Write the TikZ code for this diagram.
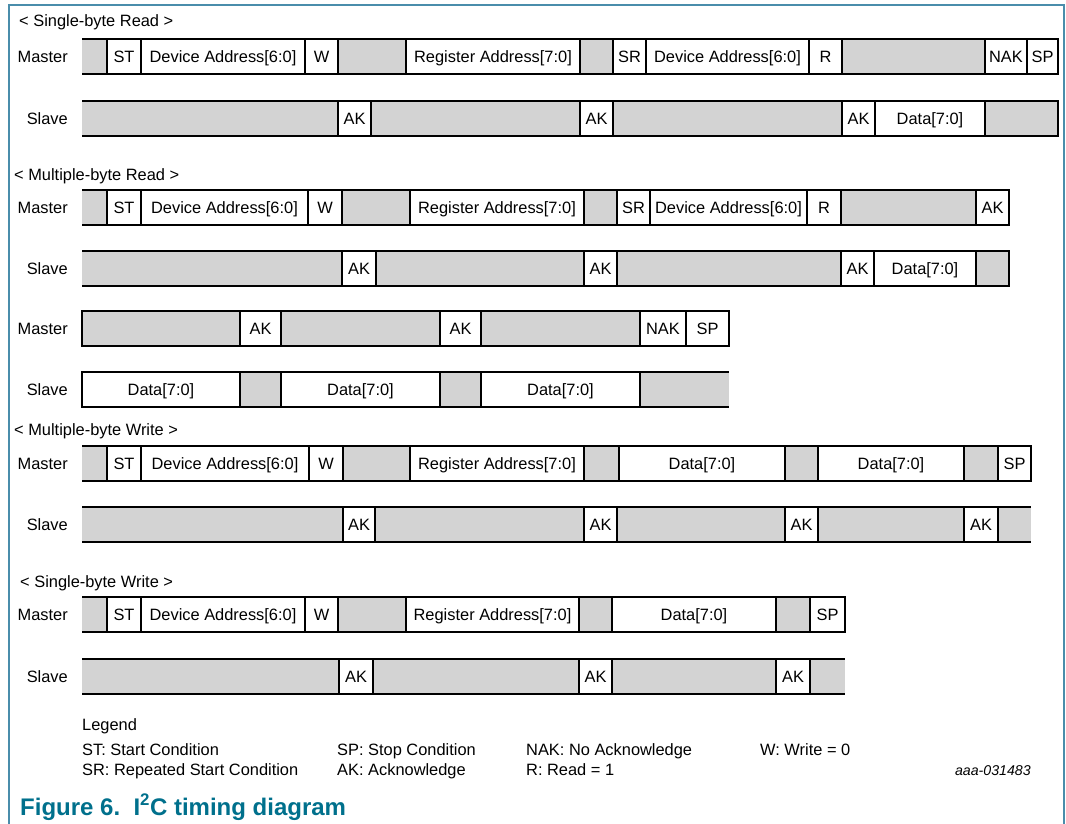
\documentclass[tikz,border=0pt]{standalone}
\usepackage{fontspec}
\setmainfont{Liberation Sans}
\usetikzlibrary{positioning}

\definecolor{cellgray}{RGB}{211,211,211}
\definecolor{framecol}{RGB}{74,141,171}
\definecolor{capteal}{RGB}{0,112,140}

\begin{document}
\begin{tikzpicture}[
     x=1pt, y=-1pt,
     font=\fontsize{16.4}{19}\selectfont,
     node distance=0pt,
     cell/.style={rectangle,inner sep=0pt,outer sep=0pt,minimum height=35pt,text height=11.7pt,text depth=0pt},
     wcell/.style={cell,draw,line width=1.4pt,fill=white},
     gcell/.style={cell,draw,line width=1.4pt,fill=cellgray},
     gopen/.style={cell,fill=cellgray},
     rowline/.style={line width=2pt},
     sepline/.style={line width=1.4pt},
     lab/.style={anchor=east,inner sep=0pt,text height=11.7pt,text depth=0pt},
     txt/.style={anchor=base west,inner sep=0pt}
   ]
   \useasboundingbox (0,0) rectangle (1066,824);
   % Frame.
   \draw[framecol, line width=1.5pt] (9,824) -- (9,5) -- (1064,5) -- (1064,824);
   % Single-byte read.
   \node[txt] (hsr) at (19,27) {< Single-byte Read >};
   \node[gopen, minimum width=25pt, anchor=west] (srm1) at (82,56.5) {};
   \node[wcell, minimum width=34pt, right=of srm1] (srm2) {ST};
   \node[wcell, minimum width=164pt, right=of srm2] (srm3) {Device Address[6:0]};
   \node[wcell, minimum width=33pt, right=of srm3] (srm4) {W};
   \node[gcell, minimum width=68pt, right=of srm4] (srm5) {};
   \node[wcell, minimum width=174pt, right=of srm5] (srm6) {Register Address[7:0]};
   \node[gcell, minimum width=33pt, right=of srm6] (srm7) {};
   \node[wcell, minimum width=33pt, right=of srm7] (srm8) {SR};
   \node[wcell, minimum width=163pt, right=of srm8] (srm9) {Device Address[6:0]};
   \node[wcell, minimum width=33pt, right=of srm9] (srm10) {R};
   \node[gcell, minimum width=143pt, right=of srm10] (srm11) {};
   \node[wcell, minimum width=42pt, right=of srm11] (srm12) {NAK};
   \node[wcell, minimum width=31pt, right=of srm12] (srm13) {SP};
   \draw[rowline] (srm1.north west) -- (srm13.north east) (srm1.south west) -- (srm13.south east);
   \node[lab, left=14pt of srm1] (srml) {Master};

   \node[gopen, minimum width=256pt, anchor=west] (srs1) at (82,118.5) {};
   \node[wcell, minimum width=33pt, right=of srs1] (srs2) {AK};
   \node[gcell, minimum width=209pt, right=of srs2] (srs3) {};
   \node[wcell, minimum width=33pt, right=of srs3] (srs4) {AK};
   \node[gcell, minimum width=229pt, right=of srs4] (srs5) {};
   \node[wcell, minimum width=33pt, right=of srs5] (srs6) {AK};
   \node[wcell, minimum width=110pt, right=of srs6] (srs7) {Data[7:0]};
   \node[gcell, minimum width=73pt, right=of srs7] (srs8) {};
   \draw[rowline] (srs1.north west) -- (srs8.north east) (srs1.south west) -- (srs8.south east);
   \node[lab, left=14pt of srs1] (srsl) {Slave};

   % Multiple-byte read.
   \node[txt] (hmr) at (14,180) {< Multiple-byte Read >};
   \node[gopen, minimum width=25pt, anchor=west] (mrm1) at (82,207.5) {};
   \node[wcell, minimum width=34pt, right=of mrm1] (mrm2) {ST};
   \node[wcell, minimum width=167pt, right=of mrm2] (mrm3) {Device Address[6:0]};
   \node[wcell, minimum width=34pt, right=of mrm3] (mrm4) {W};
   \node[gcell, minimum width=68pt, right=of mrm4] (mrm5) {};
   \node[wcell, minimum width=174pt, right=of mrm5] (mrm6) {Register Address[7:0]};
   \node[gcell, minimum width=33pt, right=of mrm6] (mrm7) {};
   \node[wcell, minimum width=33pt, right=of mrm7] (mrm8) {SR};
   \node[wcell, minimum width=157pt, right=of mrm8] (mrm9) {Device Address[6:0]};
   \node[wcell, minimum width=34pt, right=of mrm9] (mrm10) {R};
   \node[gcell, minimum width=135pt, right=of mrm10] (mrm11) {};
   \node[wcell, minimum width=33pt, right=of mrm11] (mrm12) {AK};
   \draw[rowline] (mrm1.north west) -- (mrm12.north east) (mrm1.south west) -- (mrm12.south east);
   \node[lab, left=14pt of mrm1] (mrml) {Master};

   \node[gopen, minimum width=260pt, anchor=west] (mrs1) at (82,268.5) {};
   \node[wcell, minimum width=34pt, right=of mrs1] (mrs2) {AK};
   \node[gcell, minimum width=208pt, right=of mrs2] (mrs3) {};
   \node[wcell, minimum width=33pt, right=of mrs3] (mrs4) {AK};
   \node[gcell, minimum width=224pt, right=of mrs4] (mrs5) {};
   \node[wcell, minimum width=33pt, right=of mrs5] (mrs6) {AK};
   \node[wcell, minimum width=102pt, right=of mrs6] (mrs7) {Data[7:0]};
   \node[gcell, minimum width=33pt, right=of mrs7] (mrs8) {};
   \draw[rowline] (mrs1.north west) -- (mrs8.north east) (mrs1.south west) -- (mrs8.south east);
   \node[lab, left=14pt of mrs1] (mrsl) {Slave};

   \node[gcell, minimum width=158pt, anchor=west] (mrmb1) at (82,328.5) {};
   \node[wcell, minimum width=41pt, right=of mrmb1] (mrmb2) {AK};
   \node[gcell, minimum width=159pt, right=of mrmb2] (mrmb3) {};
   \node[wcell, minimum width=41pt, right=of mrmb3] (mrmb4) {AK};
   \node[gcell, minimum width=159pt, right=of mrmb4] (mrmb5) {};
   \node[wcell, minimum width=46pt, right=of mrmb5] (mrmb6) {NAK};
   \node[wcell, minimum width=43pt, right=of mrmb6] (mrmb7) {SP};
   \draw[rowline] (mrmb1.north west) -- (mrmb7.north east) (mrmb1.south west) -- (mrmb7.south east);
   \node[lab, left=14pt of mrmb1] (mrmbl) {Master};

   \node[wcell, minimum width=158pt, anchor=west] (mrsb1) at (82,389.5) {Data[7:0]};
   \node[gcell, minimum width=41pt, right=of mrsb1] (mrsb2) {};
   \node[wcell, minimum width=159pt, right=of mrsb2] (mrsb3) {Data[7:0]};
   \node[gcell, minimum width=41pt, right=of mrsb3] (mrsb4) {};
   \node[wcell, minimum width=159pt, right=of mrsb4] (mrsb5) {Data[7:0]};
   \node[gopen, minimum width=89pt, right=of mrsb5] (mrsb6) {};
   \draw[sepline] (mrsb5.north east) -- (mrsb5.south east);
   \draw[rowline] (mrsb1.north west) -- (mrsb6.north east) (mrsb1.south west) -- (mrsb6.south east);
   \node[lab, left=14pt of mrsb1] (mrsbl) {Slave};

   % Multiple-byte write.
   \node[txt] (hmw) at (14,435) {< Multiple-byte Write >};
   \node[gopen, minimum width=25pt, anchor=west] (mwm1) at (82,463.5) {};
   \node[wcell, minimum width=34pt, right=of mwm1] (mwm2) {ST};
   \node[wcell, minimum width=168pt, right=of mwm2] (mwm3) {Device Address[6:0]};
   \node[wcell, minimum width=34pt, right=of mwm3] (mwm4) {W};
   \node[gcell, minimum width=67pt, right=of mwm4] (mwm5) {};
   \node[wcell, minimum width=174pt, right=of mwm5] (mwm6) {Register Address[7:0]};
   \node[gcell, minimum width=35pt, right=of mwm6] (mwm7) {};
   \node[wcell, minimum width=166pt, right=of mwm7] (mwm8) {Data[7:0]};
   \node[gcell, minimum width=33pt, right=of mwm8] (mwm9) {};
   \node[wcell, minimum width=146pt, right=of mwm9] (mwm10) {Data[7:0]};
   \node[gcell, minimum width=34pt, right=of mwm10] (mwm11) {};
   \node[wcell, minimum width=33pt, right=of mwm11] (mwm12) {SP};
   \draw[rowline] (mwm1.north west) -- (mwm12.north east) (mwm1.south west) -- (mwm12.south east);
   \node[lab, left=14pt of mwm1] (mwml) {Master};

   \node[gopen, minimum width=261pt, anchor=west] (mws1) at (82,524.5) {};
   \node[wcell, minimum width=32pt, right=of mws1] (mws2) {AK};
   \node[gcell, minimum width=209pt, right=of mws2] (mws3) {};
   \node[wcell, minimum width=33pt, right=of mws3] (mws4) {AK};
   \node[gcell, minimum width=168pt, right=of mws4] (mws5) {};
   \node[wcell, minimum width=33pt, right=of mws5] (mws6) {AK};
   \node[gcell, minimum width=146pt, right=of mws6] (mws7) {};
   \node[wcell, minimum width=34pt, right=of mws7] (mws8) {AK};
   \node[gopen, minimum width=33pt, right=of mws8] (mws9) {};
   \draw[sepline] (mws8.north east) -- (mws8.south east);
   \draw[rowline] (mws1.north west) -- (mws9.north east) (mws1.south west) -- (mws9.south east);
   \node[lab, left=14pt of mws1] (mwsl) {Slave};

   % Single-byte write.
   \node[txt] (hsw) at (20,587) {< Single-byte Write >};
   \node[gopen, minimum width=25pt, anchor=west] (swm1) at (82,614.5) {};
   \node[wcell, minimum width=34pt, right=of swm1] (swm2) {ST};
   \node[wcell, minimum width=164pt, right=of swm2] (swm3) {Device Address[6:0]};
   \node[wcell, minimum width=33pt, right=of swm3] (swm4) {W};
   \node[gcell, minimum width=68pt, right=of swm4] (swm5) {};
   \node[wcell, minimum width=173pt, right=of swm5] (swm6) {Register Address[7:0]};
   \node[gcell, minimum width=33pt, right=of swm6] (swm7) {};
   \node[wcell, minimum width=164pt, right=of swm7] (swm8) {Data[7:0]};
   \node[gcell, minimum width=34pt, right=of swm8] (swm9) {};
   \node[wcell, minimum width=35pt, right=of swm9] (swm10) {SP};
   \draw[rowline] (swm1.north west) -- (swm10.north east) (swm1.south west) -- (swm10.south east);
   \node[lab, left=14pt of swm1] (swml) {Master};

   \node[gopen, minimum width=257pt, anchor=west] (sws1) at (82,676.5) {};
   \node[wcell, minimum width=34pt, right=of sws1] (sws2) {AK};
   \node[gcell, minimum width=206pt, right=of sws2] (sws3) {};
   \node[wcell, minimum width=33pt, right=of sws3] (sws4) {AK};
   \node[gcell, minimum width=164pt, right=of sws4] (sws5) {};
   \node[wcell, minimum width=34pt, right=of sws5] (sws6) {AK};
   \node[gopen, minimum width=35pt, right=of sws6] (sws7) {};
   \draw[sepline] (sws6.north east) -- (sws6.south east);
   \draw[rowline] (sws1.north west) -- (sws7.north east) (sws1.south west) -- (sws7.south east);
   \node[lab, left=14pt of sws1] (swsl) {Slave};

   % Legend.
   \node[txt] (leg) at (82,730) {Legend};
   \node[txt] (legst) at (82,755) {ST: Start Condition};
   \node[txt] (legsr) at (82,775) {SR: Repeated Start Condition};
   \node[txt] (legsp) at (337,755) {SP: Stop Condition};
   \node[txt] (legak) at (337,775) {AK: Acknowledge};
   \node[txt] (legnak) at (526,755) {NAK: No Acknowledge};
   \node[txt] (legr) at (526,775) {R: Read = 1};
   \node[txt] (legw) at (760,755) {W: Write = 0};
   \node[anchor=base east, inner sep=0pt, font=\fontsize{14.2}{17}\selectfont\itshape] (code) at (1031,775) {aaa-031483};
   % Caption.
   \node[txt, font=\fontsize{24}{28}\selectfont\bfseries, text=capteal] (cap) at (20,815) {Figure 6.\ \ I\textsuperscript{2}C timing diagram};
 \end{tikzpicture}
\end{document}
